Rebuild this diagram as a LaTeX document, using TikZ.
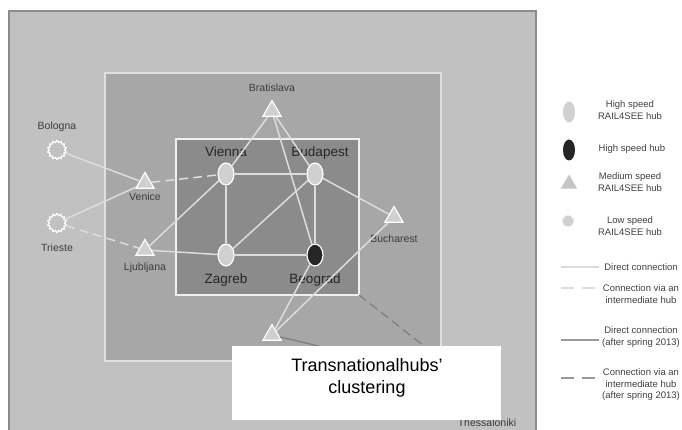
\documentclass[tikz,border=0pt]{standalone}
\usepackage{fontspec}
\setmainfont{Liberation Sans}
\usepackage{tikz}
\usetikzlibrary{shapes,positioning}

\definecolor{outerfill}{HTML}{C1C1C1}
\definecolor{midfill}{HTML}{A7A7A7}
\definecolor{innerfill}{HTML}{8B8B8B}
\definecolor{linkgrey}{HTML}{DCDCDC}
\definecolor{hubgrey}{HTML}{D0D0D0}
\definecolor{darklink}{HTML}{7C7C7C}
\definecolor{labelgrey}{HTML}{3C3C3C}

\begin{document}
\begin{tikzpicture}[x=1pt,y=-1pt,inner sep=0pt]
\tikzstyle{fast}=[ellipse, draw=white, line width=1.2pt, fill=hubgrey, minimum width=16pt, minimum height=22pt]
\tikzstyle{fastonly}=[fast, fill=black!85]
\tikzstyle{medium}=[regular polygon, regular polygon sides=3, draw=white, line width=1.2pt, fill=hubgrey, minimum size=21pt]
\tikzstyle{slow}=[star, star points=14, star point ratio=1.25, draw=white, line width=1.2pt, fill=outerfill, minimum size=19pt]
\tikzstyle{town}=[font=\fontsize{10.5}{12}\selectfont, text=labelgrey, text height=8pt, text depth=2.5pt]
\tikzstyle{core}=[font=\fontsize{13.5}{15}\selectfont, text=black!85, text height=10pt, text depth=3pt]
\tikzstyle{link}=[draw=linkgrey, line width=1.5pt]
\tikzstyle{via}=[link, dash pattern=on 9pt off 5pt]
\tikzstyle{later}=[draw=darklink, line width=1.2pt]
\tikzstyle{latervia}=[later, dash pattern=on 9pt off 5pt]
\tikzstyle{keytext}=[font=\fontsize{9.5}{11.5}\selectfont, text=black!75, align=center]

\useasboundingbox (0,0) rectangle (682,430);
\fill[white] (0,0) rectangle (682,430);

% areas
\draw[draw=black!45, line width=1.5pt, fill=outerfill] (9,11) rectangle (536,434);
\draw[draw=black!12, line width=1.8pt, fill=midfill] (105,73) rectangle (441,361);
\draw[draw=black!6, line width=1.8pt, fill=innerfill] (176,139) rectangle (359,295);

% hubs
\node[medium] (BRA) at (272,111) {};
\node[town, above=5pt of BRA] (BRAl) {Bratislava};
\node[slow] (BOL) at (57,150) {};
\node[town, above=7pt of BOL] (BOLl) {Bologna};
\node[slow] (TRI) at (57,223) {};
\node[town, below=10pt of TRI] (TRIl) {Trieste};
\node[medium] (VEN) at (145,183) {};
\node[town, below=3pt of VEN] (VENl) {Venice};
\node[medium] (LJU) at (145,250) {};
\node[town, below=6pt of LJU] (LJUl) {Ljubljana};
\node[medium] (BUC) at (394,217) {};
\node[town, below=11pt of BUC] (BUCl) {Bucharest};
\node[medium] (SOF) at (272,335) {};
\node[town, below=5pt of SOF] (SOFl) {Sofia};
\coordinate (THE) at (470,382);
\node[town] (THEl) at (487,424) {Thessaloniki};

\node[fast] (VIE) at (226,174) {};
\node[core, above=3pt of VIE] (VIEl) {Vienna};
\node[fast] (BUD) at (315,174) {};
\node[core, above=3pt of BUD, xshift=5pt] (BUDl) {Budapest};
\node[fast] (ZAG) at (226,255) {};
\node[core, below=7pt of ZAG] (ZAGl) {Zagreb};
\node[fastonly] (BEO) at (315,255) {};
\node[core, below=7pt of BEO] (BEOl) {Beograd};

% connections
\path (BOL) edge[link] (VEN)
      (TRI) edge[link] (VEN)
            edge[via] (LJU)
      (VEN) edge[via] (VIE)
      (LJU) edge[link] (VIE)
            edge[link] (ZAG)
      (VIE) edge[link] (BUD)
            edge[link] (ZAG)
      (ZAG) edge[link] (BUD)
            edge[link] (BEO)
      (BUD) edge[link] (BEO)
            edge[link] (BUC)
      (BRA) edge[link] (VIE)
            edge[link] (BUD)
            edge[link] (BEO)
      (BUC) edge[link] (SOF)
      (BEO) edge[link] (SOF)
      (SOF) edge[later] (THE)
      (359,295) edge[latervia] (THE);

% legend
\node[fast, draw=none, minimum width=12pt, minimum height=21pt] (K1) at (569,112) {};
\node[keytext] (K1t) at (630,110) {High speed\\RAIL4SEE hub};
\node[fastonly, draw=none, minimum width=12pt, minimum height=21pt] (K2) at (569,150) {};
\node[keytext] (K2t) at (632,149) {High speed hub};
\node[medium, draw=none, fill=hubgrey!95!black, minimum size=19pt] (K3) at (569,184) {};
\node[keytext] (K3t) at (630,182) {Medium speed\\RAIL4SEE hub};
\node[slow, draw=none, fill=hubgrey, minimum size=12pt] (K4) at (568,221) {};
\node[keytext] (K4t) at (630,226) {Low speed\\RAIL4SEE hub};

\coordinate (K5a) at (561,267);
\coordinate (K5b) at (599,267);
\node[keytext] (K5t) at (641,267) {Direct connection};
\coordinate (K6a) at (561,288);
\coordinate (K6b) at (599,288);
\node[keytext] (K6t) at (641,294) {Connection via an\\intermediate hub};
\coordinate (K7a) at (561,340);
\coordinate (K7b) at (599,340);
\node[keytext] (K7t) at (641,337) {Direct connection\\(after spring 2013)};
\coordinate (K8a) at (561,378);
\coordinate (K8b) at (599,378);
\node[keytext] (K8t) at (641,385) {Connection via an\\intermediate hub\\(after spring 2013)};

\path (K5a) edge[link] (K5b)
      (K6a) edge[via, dash pattern=on 13pt off 8pt] (K6b)
      (K7a) edge[later, draw=black!40] (K7b)
      (K8a) edge[latervia, draw=black!40, dash pattern=on 13pt off 8pt] (K8b);

% caption
\node[fill=white, minimum width=269pt, minimum height=74pt] (CAPBOX) at (366.5,383) {};
\node[font=\fontsize{18}{22}\selectfont, align=center] (CAP) at (367,378) {Transnationalhubs’\\clustering};
\end{tikzpicture}
\end{document}
